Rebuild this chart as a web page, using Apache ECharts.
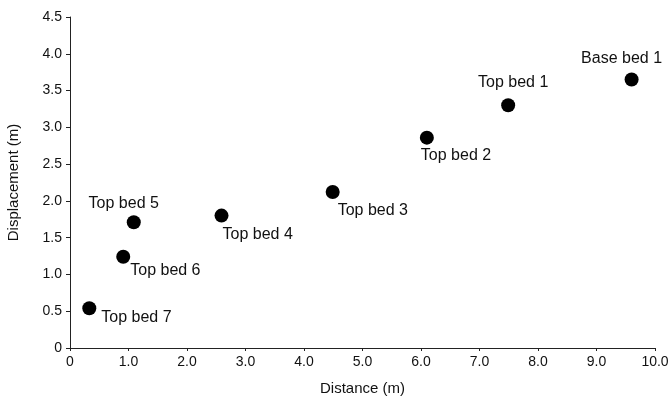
<!DOCTYPE html>
<html>
<head>
<meta charset="utf-8">
<script src="https://cdn.jsdelivr.net/npm/echarts@6/dist/echarts.min.js"></script>
<style>
  html, body { margin: 0; padding: 0; background: #fff; }
  #J-scatter { width: 671px; height: 398px; }
</style>
</head>
<body>
<div id="J-scatter"></div>
<script>
// data
const beds = ['Top bed 7', 'Top bed 6', 'Top bed 5', 'Top bed 4', 'Top bed 3', 'Top bed 2', 'Top bed 1', 'Base bed 1'];
const distance = [0.33, 0.91, 1.09, 2.59, 4.49, 6.10, 7.49, 9.60];
const displacement = [0.54, 1.24, 1.71, 1.80, 2.12, 2.86, 3.30, 3.65];

// where each label sits relative to its dot
const labelLayout = {
    'Top bed 7': { align: 'left', offset: [12, 9] },
    'Top bed 6': { align: 'left', offset: [7, 14] },
    'Top bed 5': { align: 'center', offset: [-10, -19] },
    'Top bed 4': { align: 'left', offset: [1, 19] },
    'Top bed 3': { align: 'left', offset: [5, 19] },
    'Top bed 2': { align: 'left', offset: [-6, 18] },
    'Top bed 1': { align: 'center', offset: [5, -23] },
    'Base bed 1': { align: 'center', offset: [-10, -21] }
};

const fmt = function (v) { return v === 0 ? '0' : v.toFixed(1); };

const points = beds.map(function (name, i) {
    const lay = labelLayout[name];
    return {
        name: name,
        value: [distance[i], displacement[i]],
        label: { align: lay.align, offset: lay.offset }
    };
});

const option = {
    animation: false,
    textStyle: { fontFamily: 'Liberation Sans, Arial, sans-serif' },
    grid: { left: 70, right: 16, top: 17, bottom: 50, containLabel: false, outerBoundsMode: 'none' },
    xAxis: {
        type: 'value',
        min: 0,
        max: 10,
        interval: 1,
        name: 'Distance (m)',
        nameLocation: 'middle',
        nameGap: 33,
        nameTextStyle: { fontSize: 15, color: '#111' },
        axisLine: { lineStyle: { color: '#222', width: 1 } },
        axisTick: { show: true, length: 3, lineStyle: { color: '#222' } },
        axisLabel: { fontSize: 14, color: '#111', margin: 7, formatter: fmt },
        splitLine: { show: false }
    },
    yAxis: {
        type: 'value',
        min: 0,
        max: 4.5,
        interval: 0.5,
        name: 'Displacement (m)',
        nameLocation: 'middle',
        nameGap: 49,
        nameTextStyle: { fontSize: 15, color: '#111' },
        axisLine: { show: true, lineStyle: { color: '#222', width: 1 } },
        axisTick: { show: true, length: 4, lineStyle: { color: '#222' } },
        axisLabel: { fontSize: 14, color: '#111', margin: 8, formatter: fmt },
        splitLine: { show: false }
    },
    series: [
        {
            type: 'scatter',
            symbol: 'circle',
            symbolSize: 14,
            itemStyle: { color: '#000', opacity: 1 },
            label: {
                show: true,
                position: 'inside',
                verticalAlign: 'middle',
                formatter: '{b}',
                fontSize: 16,
                color: '#111'
            },
            data: points
        }
    ]
};

const chart = echarts.init(document.getElementById('J-scatter'));
chart.setOption(option);
</script>
</body>
</html>
